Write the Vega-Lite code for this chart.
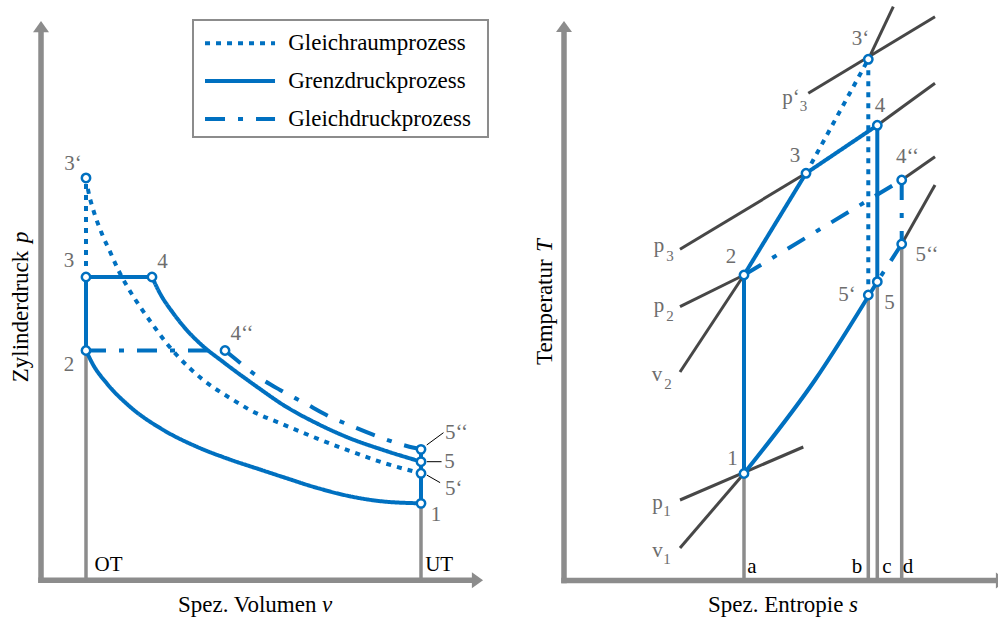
{
  "$schema": "https://vega.github.io/schema/vega-lite/v6.json",
  "padding": 0,
  "autosize": {"type": "pad"},
  "spacing": 0,
  "bounds": "flush",
  "config": {"view": {"stroke": null}, "font": "Liberation Serif", "text": {"font": "Liberation Serif"}},
  "hconcat": [
    {
      "width": 499,
      "height": 619,
      "encoding": {
        "x": {"field": "v", "type": "quantitative", "scale": {"domain": [-0.797, 9.63], "nice": false, "zero": false}, "axis": null},
        "y": {"field": "p", "type": "quantitative", "scale": {"domain": [-0.5, 7.5], "nice": false, "zero": false}, "axis": null}
      },
      "layer": [
        {
          "data": {"values": [
            {"v": 0.06, "p": 0, "v2": 0.06, "p2": 7.1},
            {"v": 0.06, "p": 0, "v2": 9.1, "p2": 0}
          ]},
          "mark": {"type": "rule", "color": "#8c8c8c", "strokeWidth": 5.5, "strokeCap": "square"},
          "encoding": {"x2": {"field": "v2"}, "y2": {"field": "p2"}}
        },
        {
          "data": {"values": [
            {"v": 0.06, "p": 7.156, "dir": "up"},
            {"v": 9.18, "p": 0, "dir": "right"}
          ]},
          "mark": {"type": "point", "filled": true, "color": "#8c8c8c", "size": 256, "opacity": 1, "strokeWidth": 0},
          "encoding": {"shape": {"field": "dir", "type": "nominal", "scale": {"domain": ["up", "right"], "range": ["M0,-0.7L1,0.7L-1,0.7Z", "M0.7,0L-0.7,1L-0.7,-1Z"]}, "legend": null}}
        },
        {
          "data": {"values": [
            {"v": 1, "p": 0, "v2": 1, "p2": 2.97},
            {"v": 8, "p": 0, "v2": 8, "p2": 0.995}
          ]},
          "mark": {"type": "rule", "color": "#8c8c8c", "strokeWidth": 3.5},
          "encoding": {"x2": {"field": "v2"}, "y2": {"field": "p2"}}
        },
        {
          "data": {"values": [
            {"v": 8.12, "p": 1.749, "v2": 8.47, "p2": 1.908},
            {"v": 8.12, "p": 1.533, "v2": 8.43, "p2": 1.533},
            {"v": 8.12, "p": 1.361, "v2": 8.40, "p2": 1.262}
          ]},
          "mark": {"type": "rule", "color": "#000000", "strokeWidth": 1},
          "encoding": {"x2": {"field": "v2"}, "y2": {"field": "p2"}}
        },
        {
          "data": {"values": [{"v": 3.236, "p": 7.242, "v2": 9.40, "p2": 5.729}]},
          "mark": {"type": "rect", "fill": "white", "stroke": "#8c8c8c", "strokeWidth": 2},
          "encoding": {"x2": {"field": "v2"}, "y2": {"field": "p2"}}
        },
        {
          "data": {"values": [
            {"style": "solid", "v": 1, "p": 2.97, "v2": 1, "p2": 3.92},
            {"style": "solid", "v": 1, "p": 3.92, "v2": 2.379, "p2": 3.92},
            {"style": "solid", "v": 8, "p": 1.693, "v2": 8, "p2": 0.995},
            {"style": "dot", "v": 1, "p": 3.92, "v2": 1, "p2": 5.2},
            {"style": "dashdot", "v": 1, "p": 2.97, "v2": 3.905, "p2": 2.97},
            {"style": "dot", "v": 3.487, "p": 6.94, "v2": 4.95, "p2": 6.94},
            {"style": "solid", "v": 3.487, "p": 6.453, "v2": 4.95, "p2": 6.453},
            {"style": "dashdot", "v": 3.487, "p": 5.962, "v2": 4.95, "p2": 5.962}
          ]},
          "mark": {"type": "rule", "color": "#0070C0", "strokeWidth": 4},
          "encoding": {
            "x2": {"field": "v2"}, "y2": {"field": "p2"},
            "strokeDash": {"field": "style", "type": "nominal", "scale": {"domain": ["dot", "solid", "dashdot"], "range": [[5, 6], [1, 0], [20, 13, 5, 13]]}, "legend": null}
          }
        },
        {
          "data": {"values": [
            {"seg": "compr", "style": "solid", "i": 1, "v": 1.0, "p": 2.97},
            {"seg": "compr", "style": "solid", "i": 2, "v": 1.152, "p": 2.783},
            {"seg": "compr", "style": "solid", "i": 3, "v": 1.433, "p": 2.546},
            {"seg": "compr", "style": "solid", "i": 4, "v": 1.919, "p": 2.244},
            {"seg": "compr", "style": "solid", "i": 5, "v": 2.616, "p": 1.943},
            {"seg": "compr", "style": "solid", "i": 6, "v": 3.313, "p": 1.727},
            {"seg": "compr", "style": "solid", "i": 7, "v": 4.009, "p": 1.561},
            {"seg": "compr", "style": "solid", "i": 8, "v": 4.636, "p": 1.432},
            {"seg": "compr", "style": "solid", "i": 9, "v": 5.123, "p": 1.333},
            {"seg": "compr", "style": "solid", "i": 10, "v": 5.82, "p": 1.196},
            {"seg": "compr", "style": "solid", "i": 11, "v": 6.516, "p": 1.086},
            {"seg": "compr", "style": "solid", "i": 12, "v": 7.213, "p": 1.019},
            {"seg": "compr", "style": "solid", "i": 13, "v": 8.0, "p": 0.995},
            {"seg": "raum", "style": "dot", "i": 1, "v": 1.0, "p": 5.2},
            {"seg": "raum", "style": "dot", "i": 2, "v": 1.052, "p": 5.019},
            {"seg": "raum", "style": "dot", "i": 3, "v": 1.153, "p": 4.786},
            {"seg": "raum", "style": "dot", "i": 4, "v": 1.328, "p": 4.485},
            {"seg": "raum", "style": "dot", "i": 5, "v": 1.502, "p": 4.247},
            {"seg": "raum", "style": "dot", "i": 6, "v": 1.675, "p": 4.01},
            {"seg": "raum", "style": "dot", "i": 7, "v": 1.884, "p": 3.774},
            {"seg": "raum", "style": "dot", "i": 8, "v": 2.129, "p": 3.536},
            {"seg": "raum", "style": "dot", "i": 9, "v": 2.373, "p": 3.322},
            {"seg": "raum", "style": "dot", "i": 10, "v": 2.686, "p": 3.063},
            {"seg": "raum", "style": "dot", "i": 11, "v": 2.895, "p": 2.912},
            {"seg": "raum", "style": "dot", "i": 12, "v": 3.451, "p": 2.589},
            {"seg": "raum", "style": "dot", "i": 13, "v": 4.078, "p": 2.33},
            {"seg": "raum", "style": "dot", "i": 14, "v": 4.427, "p": 2.201},
            {"seg": "raum", "style": "dot", "i": 15, "v": 5.123, "p": 2.014},
            {"seg": "raum", "style": "dot", "i": 16, "v": 5.821, "p": 1.835},
            {"seg": "raum", "style": "dot", "i": 17, "v": 6.516, "p": 1.671},
            {"seg": "raum", "style": "dot", "i": 18, "v": 7.212, "p": 1.519},
            {"seg": "raum", "style": "dot", "i": 19, "v": 8.0, "p": 1.383},
            {"seg": "grenz", "style": "solid", "i": 1, "v": 2.379, "p": 3.92},
            {"seg": "grenz", "style": "solid", "i": 2, "v": 2.546, "p": 3.709},
            {"seg": "grenz", "style": "solid", "i": 3, "v": 2.824, "p": 3.451},
            {"seg": "grenz", "style": "solid", "i": 4, "v": 3.104, "p": 3.235},
            {"seg": "grenz", "style": "solid", "i": 5, "v": 3.418, "p": 3.041},
            {"seg": "grenz", "style": "solid", "i": 6, "v": 3.869, "p": 2.821},
            {"seg": "grenz", "style": "solid", "i": 7, "v": 4.636, "p": 2.473},
            {"seg": "grenz", "style": "solid", "i": 8, "v": 5.123, "p": 2.266},
            {"seg": "grenz", "style": "solid", "i": 9, "v": 5.821, "p": 2.029},
            {"seg": "grenz", "style": "solid", "i": 10, "v": 6.516, "p": 1.835},
            {"seg": "grenz", "style": "solid", "i": 11, "v": 7.212, "p": 1.684},
            {"seg": "grenz", "style": "solid", "i": 12, "v": 8.0, "p": 1.533},
            {"seg": "druck", "style": "dashdot", "i": 1, "v": 3.905, "p": 2.97},
            {"seg": "druck", "style": "dashdot", "i": 2, "v": 4.149, "p": 2.847},
            {"seg": "druck", "style": "dashdot", "i": 3, "v": 4.496, "p": 2.675},
            {"seg": "druck", "style": "dashdot", "i": 4, "v": 5.054, "p": 2.46},
            {"seg": "druck", "style": "dashdot", "i": 5, "v": 5.576, "p": 2.288},
            {"seg": "druck", "style": "dashdot", "i": 6, "v": 6.063, "p": 2.124},
            {"seg": "druck", "style": "dashdot", "i": 7, "v": 6.585, "p": 1.985},
            {"seg": "druck", "style": "dashdot", "i": 8, "v": 7.108, "p": 1.856},
            {"seg": "druck", "style": "dashdot", "i": 9, "v": 7.701, "p": 1.736},
            {"seg": "druck", "style": "dashdot", "i": 10, "v": 8.0, "p": 1.693}
          ]},
          "mark": {"type": "line", "color": "#0070C0", "strokeWidth": 4, "interpolate": "monotone"},
          "encoding": {
            "detail": {"field": "seg", "type": "nominal"},
            "order": {"field": "i", "type": "quantitative"},
            "strokeDash": {"field": "style", "type": "nominal", "scale": {"domain": ["dot", "solid", "dashdot"], "range": [[5, 6], [1, 0], [20, 13, 5, 13]]}, "legend": null}
          }
        },
        {
          "data": {"values": [
            {"v": 1, "p": 5.2}, {"v": 1, "p": 3.92}, {"v": 2.379, "p": 3.92}, {"v": 1, "p": 2.97},
            {"v": 3.905, "p": 2.97}, {"v": 8, "p": 1.693}, {"v": 8, "p": 1.533}, {"v": 8, "p": 1.383}, {"v": 8, "p": 0.995}
          ]},
          "mark": {"type": "point", "shape": "circle", "filled": true, "fill": "white", "stroke": "#0070C0", "strokeWidth": 2.5, "size": 70, "opacity": 1}
        },
        {
          "data": {"values": [
            {"v": 0.73, "p": 5.38, "label": "3‘"},
            {"v": 0.645, "p": 4.13, "label": "3"},
            {"v": 2.6, "p": 4.118, "label": "4"},
            {"v": 0.645, "p": 2.783, "label": "2"},
            {"v": 4.26, "p": 3.183, "label": "4‘‘"},
            {"v": 8.742, "p": 1.9, "label": "5‘‘"},
            {"v": 8.596, "p": 1.533, "label": "5"},
            {"v": 8.686, "p": 1.18, "label": "5‘"},
            {"v": 8.313, "p": 0.844, "label": "1"}
          ]},
          "mark": {"type": "text", "font": "Liberation Serif", "fontSize": 21, "color": "#6d6d6d", "align": "center", "baseline": "middle"},
          "encoding": {"text": {"field": "label"}}
        },
        {
          "data": {"values": [
            {"v": 1.47, "p": 0.198, "label": "OT"},
            {"v": 8.38, "p": 0.198, "label": "UT"}
          ]},
          "mark": {"type": "text", "font": "Liberation Serif", "fontSize": 21, "color": "#000000", "align": "center", "baseline": "middle"},
          "encoding": {"text": {"field": "label"}}
        },
        {
          "data": {"values": [
            {"v": 5.225, "p": 6.94, "label": "Gleichraumprozess"},
            {"v": 5.225, "p": 6.453, "label": "Grenzdruckprozess"},
            {"v": 5.225, "p": 5.962, "label": "Gleichdruckprozess"}
          ]},
          "mark": {"type": "text", "font": "Liberation Serif", "fontSize": 23, "color": "#000000", "align": "left", "baseline": "middle"},
          "encoding": {"text": {"field": "label"}}
        },
        {
          "data": {"values": [{"v": 2.922, "p": -0.313, "label": "Spez. Volumen"}]},
          "mark": {"type": "text", "font": "Liberation Serif", "fontSize": 23, "color": "#000000", "align": "left", "baseline": "middle"},
          "encoding": {"text": {"field": "label"}}
        },
        {
          "data": {"values": [{"v": 5.931, "p": -0.313, "label": "v"}]},
          "mark": {"type": "text", "font": "Liberation Serif", "fontSize": 23, "fontStyle": "italic", "color": "#000000", "align": "left", "baseline": "middle"},
          "encoding": {"text": {"field": "label"}}
        },
        {
          "data": {"values": [{"v": -0.36, "p": 2.56, "label": "Zylinderdruck"}]},
          "mark": {"type": "text", "font": "Liberation Serif", "fontSize": 23, "angle": 270, "color": "#000000", "align": "left", "baseline": "middle"},
          "encoding": {"text": {"field": "label"}}
        },
        {
          "data": {"values": [{"v": -0.36, "p": 4.36, "label": "p"}]},
          "mark": {"type": "text", "font": "Liberation Serif", "fontSize": 23, "angle": 270, "fontStyle": "italic", "color": "#000000", "align": "left", "baseline": "middle"},
          "encoding": {"text": {"field": "label"}}
        }
      ]
    },
    {
      "width": 499,
      "height": 619,
      "encoding": {
        "x": {"field": "s", "type": "quantitative", "scale": {"domain": [-1.3, 8.68], "nice": false, "zero": false}, "axis": null},
        "y": {"field": "T", "type": "quantitative", "scale": {"domain": [-0.77, 11.61], "nice": false, "zero": false}, "axis": null}
      },
      "layer": [
        {
          "data": {"values": [
            {"s": 0, "T": 0, "s2": 0, "T2": 10.99},
            {"s": 0, "T": 0, "s2": 8.7, "T2": 0}
          ]},
          "mark": {"type": "rule", "color": "#8c8c8c", "strokeWidth": 5.5, "strokeCap": "square"},
          "encoding": {"x2": {"field": "s2"}, "y2": {"field": "T2"}}
        },
        {
          "data": {"values": [
            {"s": 0, "T": 11.08, "dir": "up"},
            {"s": 8.75, "T": 0, "dir": "right"}
          ]},
          "mark": {"type": "point", "filled": true, "color": "#8c8c8c", "size": 256, "opacity": 1, "strokeWidth": 0},
          "encoding": {"shape": {"field": "dir", "type": "nominal", "scale": {"domain": ["up", "right"], "range": ["M0,-0.7L1,0.7L-1,0.7Z", "M0.7,0L-0.7,1L-0.7,-1Z"]}, "legend": null}}
        },
        {
          "data": {"values": [
            {"s": 3.6, "T": 0, "s2": 3.6, "T2": 2.14},
            {"s": 6.086, "T": 0, "s2": 6.086, "T2": 5.71},
            {"s": 6.266, "T": 0, "s2": 6.266, "T2": 5.976},
            {"s": 6.754, "T": 0, "s2": 6.754, "T2": 6.73}
          ]},
          "mark": {"type": "rule", "color": "#8c8c8c", "strokeWidth": 3.5},
          "encoding": {"x2": {"field": "s2"}, "y2": {"field": "T2"}}
        },
        {
          "data": {"values": [
            {"line": "p3'", "s": 4.886, "T": 9.744, "s2": 7.42, "T2": 11.276},
            {"line": "v3'", "s": 6.086, "T": 10.424, "s2": 6.586, "T2": 11.476},
            {"line": "p3a", "s": 2.32, "T": 6.624, "s2": 4.84, "T2": 8.144},
            {"line": "p3b", "s": 6.266, "T": 9.104, "s2": 7.42, "T2": 9.944},
            {"line": "p2a", "s": 2.32, "T": 5.476, "s2": 3.6, "T2": 6.11},
            {"line": "p2b", "s": 6.754, "T": 8.01, "s2": 7.42, "T2": 8.476},
            {"line": "v2", "s": 2.32, "T": 4.17, "s2": 3.6, "T2": 6.11},
            {"line": "v1b", "s": 6.754, "T": 6.73, "s2": 7.42, "T2": 7.91},
            {"line": "v1a", "s": 2.32, "T": 0.65, "s2": 3.6, "T2": 2.14},
            {"line": "p1", "s": 2.32, "T": 1.61, "s2": 4.786, "T2": 2.67}
          ]},
          "mark": {"type": "rule", "color": "#474747", "strokeWidth": 3},
          "encoding": {"x2": {"field": "s2"}, "y2": {"field": "T2"}}
        },
        {
          "data": {"values": [
            {"style": "solid", "s": 3.6, "T": 2.14, "s2": 3.6, "T2": 6.11},
            {"style": "solid", "s": 3.6, "T": 6.11, "s2": 4.84, "T2": 8.144},
            {"style": "solid", "s": 4.84, "T": 8.144, "s2": 6.266, "T2": 9.104},
            {"style": "solid", "s": 6.266, "T": 9.104, "s2": 6.266, "T2": 5.976},
            {"style": "dot", "s": 4.84, "T": 8.144, "s2": 6.086, "T2": 10.424},
            {"style": "dot", "s": 6.086, "T": 10.424, "s2": 6.086, "T2": 5.71},
            {"style": "dashdot", "s": 3.6, "T": 6.11, "s2": 6.754, "T2": 8.01},
            {"style": "dashdot", "s": 6.754, "T": 8.01, "s2": 6.754, "T2": 6.73},
            {"style": "dashdot", "s": 6.754, "T": 6.73, "s2": 6.266, "T2": 5.976}
          ]},
          "mark": {"type": "rule", "color": "#0070C0", "strokeWidth": 4},
          "encoding": {
            "x2": {"field": "s2"}, "y2": {"field": "T2"},
            "strokeDash": {"field": "style", "type": "nominal", "scale": {"domain": ["dot", "solid", "dashdot"], "range": [[5, 6], [1, 0], [20, 13, 5, 13]]}, "legend": null}
          }
        },
        {
          "data": {"values": [
            {"seg": "q51", "i": 1, "s": 3.6, "T": 2.14},
            {"seg": "q51", "i": 2, "s": 5.02, "T": 4.01},
            {"seg": "q51", "i": 3, "s": 6.266, "T": 5.976}
          ]},
          "mark": {"type": "line", "color": "#0070C0", "strokeWidth": 4, "interpolate": "monotone"},
          "encoding": {
            "detail": {"field": "seg", "type": "nominal"},
            "order": {"field": "i", "type": "quantitative"}
          }
        },
        {
          "data": {"values": [
            {"s": 3.6, "T": 2.14}, {"s": 3.6, "T": 6.11}, {"s": 4.84, "T": 8.144}, {"s": 6.086, "T": 10.424},
            {"s": 6.266, "T": 9.104}, {"s": 6.754, "T": 8.01}, {"s": 6.754, "T": 6.73}, {"s": 6.266, "T": 5.976}, {"s": 6.086, "T": 5.71}
          ]},
          "mark": {"type": "point", "shape": "circle", "filled": true, "fill": "white", "stroke": "#0070C0", "strokeWidth": 2.5, "size": 70, "opacity": 1}
        },
        {
          "data": {"values": [
            {"s": 5.93, "T": 10.84, "label": "3‘"},
            {"s": 4.54, "T": 9.65, "label": "p‘"},
            {"s": 6.32, "T": 9.5, "label": "4"},
            {"s": 4.62, "T": 8.49, "label": "3"},
            {"s": 6.87, "T": 8.48, "label": "4‘‘"},
            {"s": 1.9, "T": 6.7, "label": "p"},
            {"s": 3.34, "T": 6.48, "label": "2"},
            {"s": 1.9, "T": 5.5, "label": "p"},
            {"s": 7.26, "T": 6.51, "label": "5‘‘"},
            {"s": 5.66, "T": 5.71, "label": "5‘"},
            {"s": 6.51, "T": 5.56, "label": "5"},
            {"s": 1.86, "T": 4.12, "label": "v"},
            {"s": 3.37, "T": 2.44, "label": "1"},
            {"s": 1.87, "T": 1.55, "label": "p"},
            {"s": 1.87, "T": 0.6, "label": "v"}
          ]},
          "mark": {"type": "text", "font": "Liberation Serif", "fontSize": 21, "color": "#6d6d6d", "align": "center", "baseline": "middle"},
          "encoding": {"text": {"field": "label"}}
        },
        {
          "data": {"values": [
            {"s": 4.79, "T": 9.49, "label": "3"},
            {"s": 2.12, "T": 6.49, "label": "3"},
            {"s": 2.12, "T": 5.29, "label": "2"},
            {"s": 2.08, "T": 3.94, "label": "2"},
            {"s": 2.06, "T": 1.39, "label": "1"},
            {"s": 2.06, "T": 0.43, "label": "1"}
          ]},
          "mark": {"type": "text", "font": "Liberation Serif", "fontSize": 15, "color": "#6d6d6d", "align": "center", "baseline": "middle"},
          "encoding": {"text": {"field": "label"}}
        },
        {
          "data": {"values": [
            {"s": 3.76, "T": 0.27, "label": "a"},
            {"s": 5.86, "T": 0.27, "label": "b"},
            {"s": 6.46, "T": 0.27, "label": "c"},
            {"s": 6.88, "T": 0.27, "label": "d"}
          ]},
          "mark": {"type": "text", "font": "Liberation Serif", "fontSize": 21, "color": "#000000", "align": "center", "baseline": "middle"},
          "encoding": {"text": {"field": "label"}}
        },
        {
          "data": {"values": [{"s": 2.88, "T": -0.48, "label": "Spez. Entropie"}]},
          "mark": {"type": "text", "font": "Liberation Serif", "fontSize": 23, "color": "#000000", "align": "left", "baseline": "middle"},
          "encoding": {"text": {"field": "label"}}
        },
        {
          "data": {"values": [{"s": 5.7, "T": -0.48, "label": "s"}]},
          "mark": {"type": "text", "font": "Liberation Serif", "fontSize": 23, "fontStyle": "italic", "color": "#000000", "align": "left", "baseline": "middle"},
          "encoding": {"text": {"field": "label"}}
        },
        {
          "data": {"values": [{"s": -0.38, "T": 4.31, "label": "Temperatur"}]},
          "mark": {"type": "text", "font": "Liberation Serif", "fontSize": 23, "angle": 270, "color": "#000000", "align": "left", "baseline": "middle"},
          "encoding": {"text": {"field": "label"}}
        },
        {
          "data": {"values": [{"s": -0.38, "T": 6.57, "label": "T"}]},
          "mark": {"type": "text", "font": "Liberation Serif", "fontSize": 23, "angle": 270, "fontStyle": "italic", "color": "#000000", "align": "left", "baseline": "middle"},
          "encoding": {"text": {"field": "label"}}
        }
      ]
    }
  ]
}
